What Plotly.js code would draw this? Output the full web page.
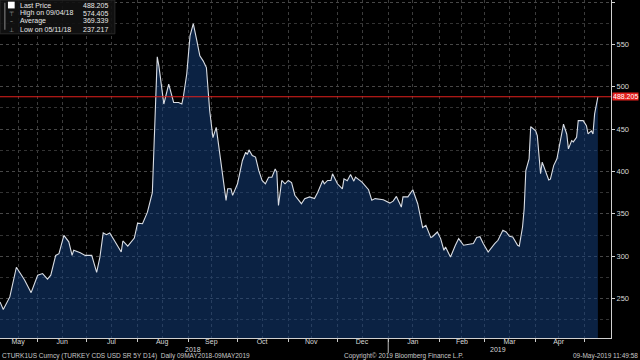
<!DOCTYPE html>
<html>
<head>
<meta charset="utf-8">
<script src="https://cdn.plot.ly/plotly-3.0.1.min.js"></script>
<style>
  html, body { margin: 0; padding: 0; background: #000; }
  #chart { width: 640px; height: 360px; }
</style>
</head>
<body>
<div id="chart"></div>
<script>
// ---- Data ----
const dates = [
  '2018-05-09','2018-05-11','2018-05-15','2018-05-19','2018-05-24','2018-05-28',
  '2018-06-01','2018-06-04','2018-06-07','2018-06-09','2018-06-12','2018-06-14','2018-06-17','2018-06-20','2018-06-22','2018-06-23','2018-06-27','2018-06-30',
  '2018-07-04','2018-07-05','2018-07-07','2018-07-09','2018-07-11','2018-07-13','2018-07-15','2018-07-18','2018-07-22','2018-07-23','2018-07-26','2018-07-30',
  '2018-08-01','2018-08-04','2018-08-07','2018-08-10','2018-08-13','2018-08-14','2018-08-17','2018-08-20','2018-08-23','2018-08-26','2018-08-28','2018-08-29','2018-08-31',
  '2018-09-02','2018-09-04','2018-09-06','2018-09-08','2018-09-10','2018-09-12','2018-09-14','2018-09-16','2018-09-18','2018-09-20','2018-09-22','2018-09-24','2018-09-25','2018-09-27','2018-09-28',
  '2018-10-01','2018-10-04','2018-10-06','2018-10-07','2018-10-08','2018-10-10','2018-10-12','2018-10-14','2018-10-16','2018-10-18','2018-10-20','2018-10-22','2018-10-24','2018-10-25','2018-10-26','2018-10-28','2018-10-30',
  '2018-11-01','2018-11-03','2018-11-05','2018-11-09','2018-11-11','2018-11-14','2018-11-17','2018-11-19','2018-11-22','2018-11-23','2018-11-25','2018-11-27','2018-11-28',
  '2018-12-01','2018-12-04','2018-12-05','2018-12-07','2018-12-09','2018-12-11','2018-12-12','2018-12-16','2018-12-20','2018-12-22','2018-12-24','2018-12-29',
  '2019-01-02','2019-01-04','2019-01-06','2019-01-09','2019-01-10','2019-01-13','2019-01-16','2019-01-19','2019-01-22','2019-01-24','2019-01-27','2019-01-28','2019-01-31',
  '2019-02-02','2019-02-04','2019-02-05','2019-02-08','2019-02-11','2019-02-13','2019-02-16','2019-02-19','2019-02-22','2019-02-24','2019-02-26','2019-02-28',
  '2019-03-03','2019-03-07','2019-03-09','2019-03-12','2019-03-14','2019-03-16','2019-03-18','2019-03-21','2019-03-22','2019-03-24','2019-03-25','2019-03-26','2019-03-27','2019-03-28','2019-03-29',
  '2019-04-01','2019-04-02','2019-04-04','2019-04-05','2019-04-07','2019-04-09','2019-04-10','2019-04-12','2019-04-14','2019-04-16','2019-04-18','2019-04-20','2019-04-21','2019-04-23','2019-04-24','2019-04-26','2019-04-27','2019-04-30',
  '2019-05-02','2019-05-03','2019-05-05','2019-05-06','2019-05-07','2019-05-09'
];
const cdsValues = [
  246, 237.217, 252, 287, 272, 257,
  277.6, 279.6, 273, 277.6, 301, 303, 324.7, 317, 301, 307, 304, 301,
  301, 295, 281, 299, 327.5, 325.5, 327.5, 318, 305, 318, 312, 321.5,
  339, 338.4, 352, 375, 535.3, 524.7, 479.6, 503, 481.5, 481.5, 479.6, 489, 515,
  560, 574.405, 556, 536.5, 530.6, 522.7, 472, 440, 452, 425, 399, 366, 379.6, 379.6, 371.8,
  385.5, 413, 422.7, 420, 425.5, 418.8, 417, 401, 389.4, 385.5, 393.3, 393.3, 403, 399, 360, 389.4, 385.5,
  389.4, 387, 372, 362, 368, 370, 368, 375.6, 389.4, 385.5, 389.4, 389.4, 397.3,
  385.5, 379.6, 391.4, 389, 396.5, 388.6, 393.3, 387.5, 378.5, 366, 368, 366.7,
  362.7, 365, 370.6, 358, 370, 370, 378.5, 362, 333.7, 336.5, 322, 323, 328.6,
  320.8, 307, 311, 299, 313, 320.8, 313, 314, 315, 322, 323, 315,
  305, 314.9, 318.8, 330.6, 328.6, 323.5, 322.7, 313, 312, 334.5, 356, 401, 409, 415, 453,
  448, 442.4, 397.3, 411, 401, 390, 391, 407, 415, 436.5, 456, 444, 426.7, 436.5, 435, 440.4, 460, 460,
  454, 444.4, 448, 444.4, 468, 488.205
];

// Legend statistics
const statLabels = ['Last Price', 'High on 09/04/18', 'Average', 'Low on 05/11/18'];
const statValues = ['488.205', '574.405', '369.339', '237.217'];
const lastPrice = 488.205;

// Axis ticks
const monthLabelDates = ['2018-05-20','2018-06-16','2018-07-16','2018-08-16','2018-09-15','2018-10-16',
                         '2018-11-15','2018-12-16','2019-01-16','2019-02-15','2019-03-16','2019-04-15'];
const monthLabels = ['May','Jun','Jul','Aug','Sep','Oct','Nov','Dec','Jan','Feb','Mar','Apr'];
const monthStarts = ['2018-06-01','2018-07-01','2018-08-01','2018-09-01','2018-10-01','2018-11-01',
                     '2018-12-01','2019-01-01','2019-02-01','2019-03-01','2019-04-01','2019-05-01'];
const yearLabels = ['2018', '2019'];
const yearLabelDates = ['2018-09-04', '2019-03-09'];
const yTicks = [250, 300, 350, 400, 450, 500, 550, 600];

const FONT = 'Liberation Sans, Arial, sans-serif';
const TXT = '#d8d8d8';

const trace = {
  type: 'scatter',
  mode: 'lines',
  x: dates,
  y: cdsValues,
  line: { color: '#d9dde4', width: 1.1 },
  fill: 'tozeroy',
  fillcolor: 'rgba(22,66,128,0.52)',
  hoverinfo: 'skip',
  showlegend: false
};

// legend rows (paper coords)
const rowY = [0.985, 0.9615, 0.938, 0.914];
const annotations = [];
statLabels.forEach((s, i) => {
  annotations.push({ xref: 'paper', yref: 'paper', x: 0.0295, y: rowY[i], xanchor: 'left', yanchor: 'middle',
    text: s, showarrow: false, font: { family: FONT, size: 7, color: '#e8e8e8' } });
  annotations.push({ xref: 'paper', yref: 'paper', x: 0.18, y: rowY[i], xanchor: 'right', yanchor: 'middle',
    text: statValues[i], showarrow: false, font: { family: FONT, size: 7, color: '#e8e8e8' } });
});
const icons = ['', '\u22A4', '\u2013', '\u22A5'];
icons.forEach((c, i) => {
  if (!c) return;
  annotations.push({ xref: 'paper', yref: 'paper', x: 0.0185, y: rowY[i], xanchor: 'center', yanchor: 'middle',
    text: c, showarrow: false, font: { family: 'DejaVu Sans', size: 6, color: '#aaaaaa' } });
});
// year labels
yearLabels.forEach((t, i) => {
  annotations.push({ xref: 'x', yref: 'paper', x: yearLabelDates[i], y: -0.034, xanchor: 'center', yanchor: 'middle',
    text: t, showarrow: false, font: { family: FONT, size: 7, color: TXT } });
});
// last price tag
annotations.push({ xref: 'paper', yref: 'y', x: 1, y: lastPrice, xanchor: 'left', yanchor: 'middle', xshift: 1,
  text: String(lastPrice), showarrow: false, bgcolor: '#e3201c', borderpad: 0,
  font: { family: FONT, size: 7, color: '#ffffff' } });
// footer texts
const footFont = { family: FONT, size: 6.5, color: '#c8c8c8' };
annotations.push({ xref: 'paper', yref: 'paper', x: 0, y: -0.053, xanchor: 'left', yanchor: 'middle',
  text: 'CTURK1US Curncy (TURKEY CDS USD SR 5Y D14)  Daily 09MAY2018-09MAY2019', showarrow: false, font: footFont });
annotations.push({ xref: 'paper', yref: 'paper', x: 0.56, y: -0.053, xanchor: 'left', yanchor: 'middle',
  text: 'Copyright\u00A9 2019 Bloomberg Finance L.P.', showarrow: false, font: footFont });
annotations.push({ xref: 'paper', yref: 'paper', x: 1.0475, y: -0.053, xanchor: 'right', yanchor: 'middle',
  text: '09-May-2019 11:49:58', showarrow: false, font: footFont });

const shapes = [
  // legend box
  { type: 'rect', xref: 'paper', yref: 'paper', x0: 0, x1: 0.188, y0: 0.9, y1: 1,
    fillcolor: 'rgba(18,18,18,0.9)', line: { color: '#2a2a2a', width: 1 }, layer: 'above' },
  // legend bracket
  { type: 'line', xref: 'paper', yref: 'paper', x0: 0.008, x1: 0.008, y0: 0.912, y1: 0.992,
    line: { color: '#888', width: 1 }, layer: 'above' },
  // last-price square icon
  { type: 'rect', xref: 'paper', yref: 'paper', x0: 0.013, x1: 0.024, y0: 0.975, y1: 0.995,
    fillcolor: '#ffffff', line: { width: 0 }, layer: 'above' },
  // last price line
  { type: 'line', xref: 'paper', yref: 'y', x0: 0, x1: 1, y0: lastPrice, y1: lastPrice,
    line: { color: '#e3201c', width: 1.2 }, layer: 'above' },
  // year separator
  { type: 'line', xref: 'x', yref: 'paper', x0: '2019-01-01', x1: '2019-01-01', y0: 0, y1: -0.045,
    line: { color: '#bbbbbb', width: 1 } }
];

const layout = {
  width: 640, height: 360,
  margin: { l: 0, r: 29, t: 0, b: 22 },
  paper_bgcolor: '#000000',
  plot_bgcolor: '#000000',
  font: { family: FONT, size: 8, color: TXT },
  showlegend: false,
  xaxis: {
    type: 'date',
    range: ['2018-05-09', '2019-05-17'],
    tickmode: 'array',
    tickvals: monthLabelDates,
    ticktext: monthLabels,
    ticks: '',
    ticklabelstandoff: -3,
    tickfont: { family: FONT, size: 7, color: TXT },
    showgrid: true,
    gridcolor: '#3c3c3c',
    griddash: 'dot',
    gridwidth: 1,
    minor: {
      tickmode: 'array',
      tickvals: monthStarts,
      ticks: 'outside',
      ticklen: 3,
      tickcolor: '#cccccc',
      showgrid: true,
      gridcolor: '#3c3c3c',
      griddash: 'dot'
    },
    showline: true,
    linecolor: '#d0d0d0',
    linewidth: 1,
    zeroline: false,
    fixedrange: true
  },
  yaxis: {
    side: 'right',
    range: [203.5, 602.4],
    tickmode: 'array',
    tickvals: yTicks,
    ticks: 'outside',
    ticklen: 3,
    tickcolor: '#d0d0d0',
    tickfont: { family: FONT, size: 7.5, color: TXT },
    showgrid: true,
    gridcolor: '#474747',
    griddash: 'dot',
    minor: { dtick: 25, tick0: 0, showgrid: true, gridcolor: '#333333', griddash: 'dot', ticks: '' },
    showline: true,
    linecolor: '#d0d0d0',
    linewidth: 1,
    zeroline: false,
    fixedrange: true
  },
  shapes: shapes,
  annotations: annotations
};

Plotly.newPlot('chart', [trace], layout, { staticPlot: true, displayModeBar: false });
</script>
</body>
</html>
